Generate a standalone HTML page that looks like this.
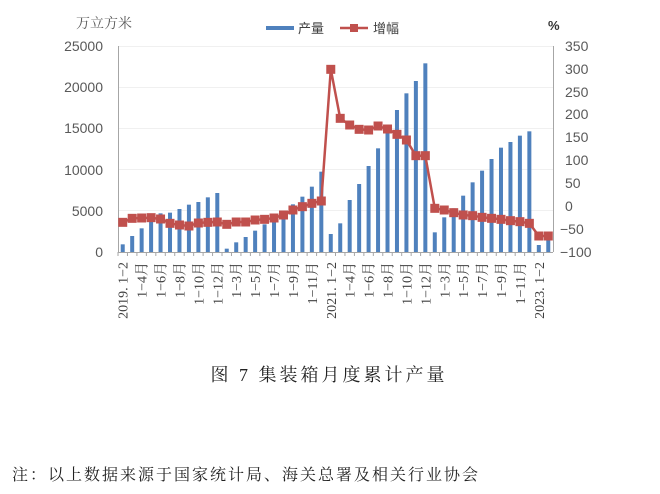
<!DOCTYPE html>
<html><head><meta charset="utf-8"><style>
html,body{margin:0;padding:0;background:#fff;width:660px;height:494px;overflow:hidden}
svg{display:block}
.ax{font-family:"Liberation Sans","Noto Sans CJK SC",sans-serif;font-size:14px;fill:#595959}
.xl{font-family:"Liberation Serif","Noto Serif CJK SC",serif;font-size:14px;fill:#404040}
</style></head><body>
<svg id="s" width="660" height="494" xmlns="http://www.w3.org/2000/svg">
<g stroke="#f0f0f0" stroke-width="1">
<line x1="118" y1="46.5" x2="553" y2="46.5"/><line x1="118" y1="87.5" x2="553" y2="87.5"/>
<line x1="118" y1="128.5" x2="553" y2="128.5"/><line x1="118" y1="169.5" x2="553" y2="169.5"/>
<line x1="118" y1="210.5" x2="553" y2="210.5"/>
</g>
<g id="bars" fill="#4F81BD"></g>
<g stroke="#a6a6a6" stroke-width="1" fill="none">
<line x1="118.5" y1="46" x2="118.5" y2="252"/>
<line x1="553.5" y1="46" x2="553.5" y2="252"/>
<line x1="118" y1="252.5" x2="553" y2="252.5"/>
</g>
<g id="ticks" stroke="#a6a6a6" stroke-width="1"></g>
<polyline id="ln" fill="none" stroke="#C0504D" stroke-width="2.5"/>
<g id="mk" fill="#C0504D"></g>
<g class="ax" text-anchor="end">
<text x="103" y="51">25000</text><text x="103" y="92">20000</text><text x="103" y="133">15000</text>
<text x="103" y="175">10000</text><text x="103" y="216">5000</text><text x="103" y="257">0</text>
</g>
<g class="ax" text-anchor="start">
<text x="565" y="51">350</text><text x="565" y="74">300</text><text x="565" y="97">250</text>
<text x="565" y="119">200</text><text x="565" y="142">150</text><text x="565" y="165">100</text>
<text x="565" y="188">50</text><text x="565" y="211">0</text><text x="560" y="234">−50</text>
<text x="560" y="257">−100</text>
</g>
<text x="76" y="28" style="font-family:'Liberation Serif','Noto Serif CJK SC',serif;font-size:14px;fill:#595959">万立方米</text>
<text x="548" y="30" style="font-family:'Liberation Sans',sans-serif;font-size:13px;font-weight:bold;fill:#333">%</text>
<rect x="266" y="26" width="28" height="4" fill="#4F81BD"/>
<text x="298" y="33" style="font-family:'Liberation Sans','Noto Sans CJK SC',sans-serif;font-size:13px;fill:#404040">产量</text>
<line x1="340" y1="28" x2="368" y2="28" stroke="#C0504D" stroke-width="2.5"/>
<rect x="350" y="24" width="8" height="8" fill="#C0504D"/>
<text x="373" y="33" style="font-family:'Liberation Sans','Noto Sans CJK SC',sans-serif;font-size:13px;fill:#404040">增幅</text>
<g id="xl" class="xl" text-anchor="end"></g>
<text x="329" y="381" text-anchor="middle" style="font-family:'Liberation Serif','Noto Serif CJK SC',serif;font-size:18px;letter-spacing:3px;fill:#222">图 7 集装箱月度累计产量</text>
<text x="12" y="480" textLength="466" lengthAdjust="spacing" style="font-family:'Liberation Serif','Noto Serif CJK SC',serif;font-size:16px;fill:#222">注：以上数据来源于国家统计局、海关总署及相关行业协会</text>
</svg>
<script>
var bt=[703,678,655,630,610,608,597,584,576,562,549,716,697,681,662,643,624,606,583,560,530,485,672,640,570,522,468,415,370,300,250,213,160,667,622,595,557,517,482,447,413,396,377,364,705,690];
var mk=[637,625,624,623,627,640,645,648,639,637,636,643,636,636,630,628,624,615,600,590,580,573,178,325,345,358,360,348,357,373,390,437,437,595,600,608,615,617,622,625,628,632,635,640,678,678];
var labs={0:"2019. 1−2",2:"1−4月",4:"1−6月",6:"1−8月",8:"1−10月",10:"1−12月",12:"1−3月",14:"1−5月",16:"1−7月",18:"1−9月",20:"1−11月",22:"2021. 1−2",24:"1−4月",26:"1−6月",28:"1−8月",30:"1−10月",32:"1−12月",34:"1−3月",36:"1−5月",38:"1−7月",40:"1−9月",42:"1−11月",44:"2023. 1−2"};
var NS="http://www.w3.org/2000/svg",w=435/46,pts=[];
function el(t,a,p){var e=document.createElementNS(NS,t);for(var k in a)e.setAttribute(k,a[k]);document.getElementById(p).appendChild(e);return e;}
for(var i=0;i<46;i++){
 var cx=118+(i+0.5)*w, y=10+bt[i]/3;
 el("rect",{x:cx-2,y:y,width:4,height:252-y},"bars");
 el("line",{x1:118+i*w,y1:252,x2:118+i*w,y2:256},"ticks");
 var my=10+mk[i]/3; pts.push(cx.toFixed(1)+","+my.toFixed(1));
 el("rect",{x:cx-4.5,y:my-4.5,width:9,height:9},"mk");
 if(labs[i]!==undefined){var t=el("text",{transform:"translate("+(cx+5)+",262) rotate(-90)"},"xl");t.textContent=labs[i];}
}
document.getElementById("ln").setAttribute("points",pts.join(" "));
</script>
</body></html>
